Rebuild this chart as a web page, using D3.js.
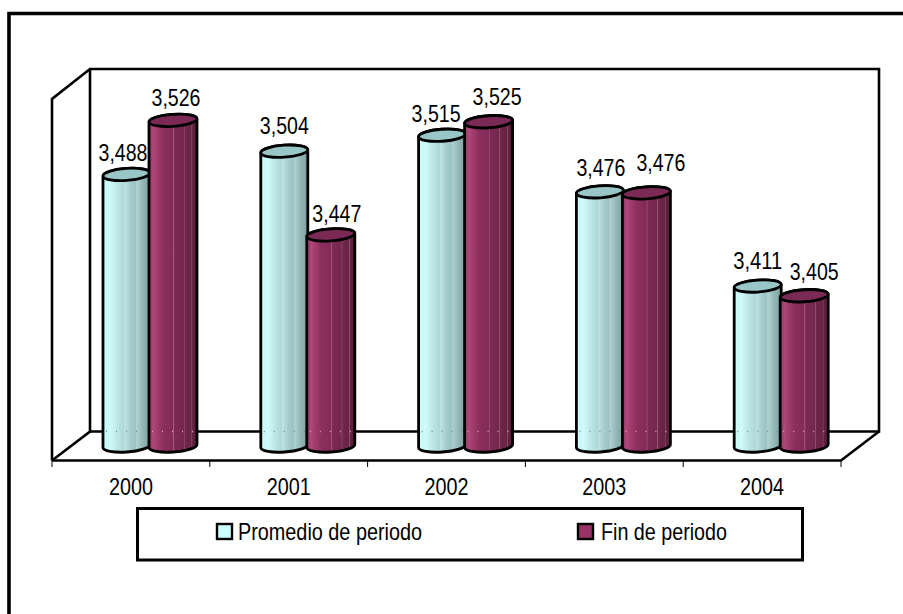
<!DOCTYPE html>
<html><head><meta charset="utf-8">
<script src="https://cdn.jsdelivr.net/npm/d3@7"></script>
<style>html,body{margin:0;padding:0;background:#fff}svg{display:block}text{font-family:"Liberation Sans",Arial,sans-serif;fill:#000}</style>
</head><body><svg id="c" width="903" height="614"></svg>
<script>
const categories=["2000","2001","2002","2003","2004"];
const seriesNames=["Promedio de periodo","Fin de periodo"];
const promedio=[3488,3504,3515,3476,3411];
const fin=[3526,3447,3525,3476,3405];
const labelsPromedio=["3,488","3,504","3,515","3,476","3,411"];
const labelsFin=["3,526","3,447","3,525","3,476","3,405"];
const svg=d3.select("#c");
const x=d3.scaleBand().domain(categories).range([52,841]);
const y=d3.scaleLinear().domain([3300,3600]).range([447,12]);
const sx=d3.scaleBand().domain(seriesNames).range([51,143]);
const depth=[38,-29];
const defs=svg.append("defs");
function grad(id,stops){const g=defs.append("linearGradient").attr("id",id);
 stops.forEach(s=>g.append("stop").attr("offset",s[0]).attr("stop-color",s[1]));}
grad("gA",[[0,"#ccffff"],[.12,"#c6f8f8"],[.13,"#d4fbfb"],[.3,"#bde8e8"],[.45,"#aed6d6"],[.46,"#bfe3e3"],[.6,"#a3cbcb"],[.7,"#9cc3c3"],[.71,"#b0d2d2"],[.85,"#92b6b6"],[1,"#7f9f9f"]]);
grad("gB",[[0,"#993366"],[.1,"#b04a7c"],[.13,"#a84173"],[.3,"#8c2f5e"],[.5,"#822b57"],[.51,"#a65f85"],[.53,"#7d2a54"],[.72,"#74274e"],[.73,"#97587a"],[.75,"#702649"],[.88,"#672343"],[.89,"#8a5270"],[.91,"#602040"],[1,"#552038"]]);
const colors=[{f:"url(#gA)",top:"#99c6c6",sw:"#ccffff"},{f:"url(#gB)",top:"#7a2a54",sw:"#993366"}];

// outer frame: only the top and left edges are visible in the picture
svg.append("path").attr("d",d3.line()([[9,614],[9,13.5],[903,13.5]])).attr("fill","none").attr("stroke","#000").attr("stroke-width",3.6);

const xL=x.range()[0],xR=x.range()[1],yF=460.5,yT=99;
const line=d3.line();
const frame=svg.append("g").attr("fill","none").attr("stroke","#000").attr("stroke-width",2.6);
frame.append("path").attr("d",line([[xL,yF],[xL,yT],[xL+depth[0],yT+depth[1]-1],[xR+depth[0],yT+depth[1]-1],[xR+depth[0],yF+depth[1]],[xL+depth[0],yF+depth[1]]]));
frame.append("path").attr("d",line([[xL+depth[0],yT+depth[1]-1],[xL+depth[0],yF+depth[1]],[xL,yF]]));
frame.append("path").attr("d",line([[xL,yF],[xR,yF],[xR+depth[0],yF+depth[1]]]));
const tickVals=d3.range(0,categories.length+1).map(i=>xL+i*x.step());
svg.append("g").selectAll("line").data(tickVals).join("line").attr("x1",d=>d).attr("x2",d=>d).attr("y1",yF).attr("y2",467).attr("stroke","#000").attr("stroke-width",1);
svg.append("g").selectAll("text").data(categories).join("text")
 .attr("x",d=>x(d)+x.bandwidth()/2).attr("y",495).attr("text-anchor","middle").attr("font-size",24)
 .attr("textLength",44).attr("lengthAdjust","spacingAndGlyphs").text(d=>d);

const series=[promedio,fin],labels=[labelsPromedio,labelsFin];
const ry=6;
const base=446;
const tilt=-4;
series.forEach((vals,si)=>{
 const g=svg.append("g");
 categories.forEach((c,i)=>{
  const left=x(c)+sx(seriesNames[si]);
  const w=sx.bandwidth()+(si?2:1);
  const cx=left+w/2;
  const yt=y(vals[i])+(si?1:0);
  const dy=w/2*Math.sin(tilt*Math.PI/180);
  const path=`M${left},${yt-dy} L${left},${base-dy} A${w/2},${ry} ${tilt} 0 0 ${left+w},${base+dy} L${left+w},${yt+dy} A${w/2},${ry} ${tilt} 0 0 ${left},${yt-dy} Z`;
  g.append("path").attr("d",path).attr("fill",colors[si].f).attr("stroke","#000").attr("stroke-width",2.8).attr("stroke-linejoin","round");
  g.append("ellipse").attr("cx",cx).attr("cy",yt).attr("rx",w/2).attr("ry",ry).attr("transform",`rotate(${tilt} ${cx} ${yt})`).attr("fill",colors[si].top).attr("stroke","#000").attr("stroke-width",2.8);
  // faint trace of the back floor line showing through the bar
  g.append("line").attr("x1",left+3).attr("x2",left+w-3).attr("y1",yF+depth[1]).attr("y2",yF+depth[1]).attr("stroke",si?"#d9a9c2":"#6f8f8f").attr("stroke-width",1.5).attr("stroke-dasharray","1 9");
 });
});
// label placement relative to each bar's centre and top
const labelDx=[[-3.5,0,-6,1,0],[3,6,8.5,14.5,10]];
const labelDy=[[-13,-17,-13,-16,-17],[-14,-13,-17,-22,-16]];
series.forEach((vals,si)=>{
 svg.append("g").selectAll("text").data(categories).join("text")
  .attr("x",(c,i)=>x(c)+sx(seriesNames[si])+(sx.bandwidth()+(si?2:1))/2+labelDx[si][i])
  .attr("y",(c,i)=>y(vals[i])+(si?1:0)+labelDy[si][i])
  .attr("text-anchor","middle").attr("font-size",24).attr("textLength",49).attr("lengthAdjust","spacingAndGlyphs").text((c,i)=>labels[si][i]);
});

const lg=svg.append("g");
lg.append("rect").attr("x",137.5).attr("y",508.5).attr("width",665).attr("height",51.5).attr("fill","#fff").attr("stroke","#000").attr("stroke-width",3);
const lx=[217,578],lw=[184,126];
seriesNames.forEach((n,i)=>{
 lg.append("rect").attr("x",lx[i]).attr("y",524).attr("width",15).attr("height",15).attr("fill",colors[i].sw).attr("stroke","#000").attr("stroke-width",2.4);
 lg.append("text").attr("x",lx[i]+(i?23:21)).attr("y",539.5).attr("font-size",24).attr("textLength",lw[i]).attr("lengthAdjust","spacingAndGlyphs").text(n);
});
</script></body></html>
